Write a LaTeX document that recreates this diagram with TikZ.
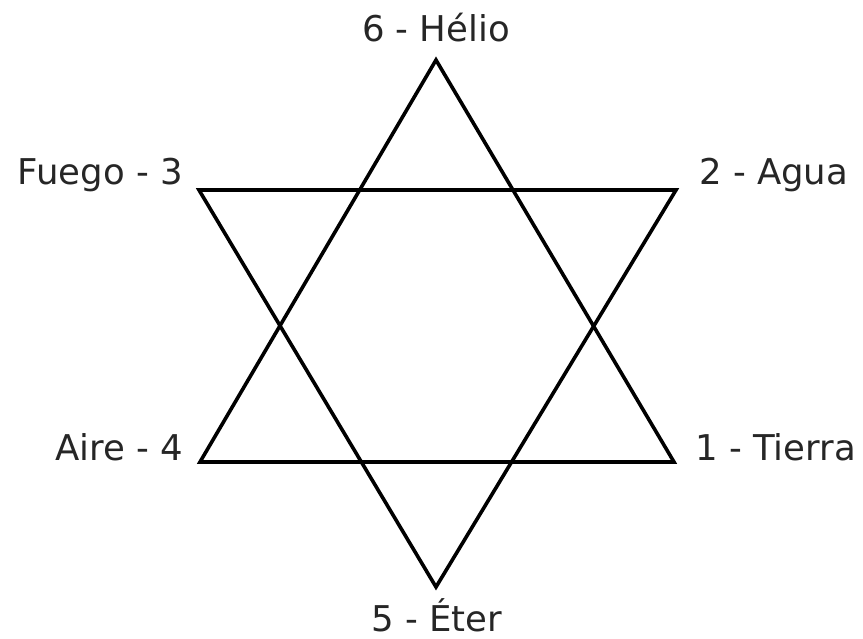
\documentclass[tikz,border=0pt]{standalone}
\usepackage{fontspec}
\setmainfont{DejaVu Sans}
\usetikzlibrary{positioning}
\tikzset{
  lado/.style ={draw=black, line width=3.6pt, miter limit=20},
  lbl/.style  ={inner sep=0pt, font=\fontsize{35.5}{38}\selectfont, text=black!85},
}

\begin{document}
\begin{tikzpicture}[x=1pt, y=-1pt]
  \useasboundingbox (0,0) rectangle (863,639);
  % vertices
  \coordinate (top) at (436,60);
  \coordinate (bot) at (436,587);
  \coordinate (ul)  at (199,190);
  \coordinate (ur)  at (676,190);
  \coordinate (ll)  at (200,462);
  \coordinate (lr)  at (674,462);

  \draw[lado] (top) -- (lr) -- (ll) -- cycle;
  \draw[lado] (bot) -- (ul) -- (ur) -- cycle;

  \node[lbl, anchor=base]      (helio) at (436,42)  {6 - Hélio};
  \node[lbl, anchor=base east] (fuego) at (183,185) {Fuego - 3};
  \node[lbl, anchor=base west] (agua)  at (699,185) {2 - Agua};
  \node[lbl, anchor=base east] (aire)  at (183,460) {Aire - 4};
  \node[lbl, anchor=base west] (tierra) at (695,460) {1 - Tierra};
  \node[lbl, anchor=base]      (eter)  at (437,631) {5 - Éter};
\end{tikzpicture}
\end{document}
